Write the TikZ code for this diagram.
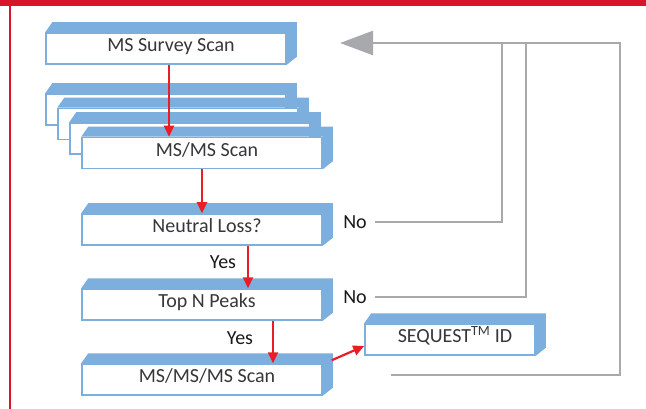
\documentclass[tikz,border=0pt]{standalone}
\usepackage{fontspec}
\setmainfont{Carlito}
\usepackage{tikz}
\usetikzlibrary{arrows.meta,calc}
\usepackage{xcolor}
\definecolor{bandred}{RGB}{215,22,45}
\definecolor{boxblue}{RGB}{124,174,222}
\definecolor{arrowred}{RGB}{232,30,38}
\definecolor{loopgrey}{RGB}{168,169,173}
\definecolor{textgrey}{RGB}{55,55,58}
% front face plus the blue top and side of a scan box
\newcommand{\scanbox}[4][240pt]{%
  \node[scanbox, minimum width=#1] (#2) at #3 {#4};
  \fill[boxblue] (#2.north west) -- ++(7pt,10pt)
    -- ([shift={(10pt,10pt)}]#2.north east)
    -- ([shift={(10pt,8pt)}]#2.south east)
    -- (#2.south east) -- (#2.north east) -- cycle;
}

\begin{document}
\begin{tikzpicture}[x=1pt, y=-1pt,
    font=\fontsize{20pt}{22pt}\selectfont,
    scanbox/.style={draw=boxblue, line width=1.5pt, fill=white,
      minimum height=31pt, inner sep=0pt, text=textgrey,
      text height=0.64em, text depth=0pt,
      execute at begin node=\hspace*{10pt}},
    yesno/.style={inner sep=0pt, text=black!90},
    flowarrow/.style={arrowred, line width=2.2pt,
      -{Triangle[length=11pt, width=10pt]}},
    backline/.style={loopgrey, line width=2.5pt}]
  \useasboundingbox (0,0) rectangle (646,409);

  % Frame
  \fill[bandred] (0,0) rectangle (646,6);
  \fill[bandred] (8.5,0) rectangle (11,409);

  % Scan boxes
  \scanbox{survey}{(166,48.5)}{MS Survey Scan}
  \foreach \i in {1,2,3}{
    \scanbox{s\i}{({154+12*\i},{95+14.5*\i})}{}
  }
  \scanbox{ms2}{(202,153)}{MS/MS Scan}
  \scanbox{neutral}{(202,229.5)}{Neutral Loss?}
  \scanbox{topn}{(202,304.5)}{Top N Peaks}
  \scanbox{ms3}{(202,379.5)}{MS/MS/MS Scan}
  \scanbox[170pt]{seq}{(450,339.5)}{SEQUEST\textsuperscript{TM} ID}

  % Decisions
  \node[yesno, anchor=base] (yes1) at (223,269) {Yes};
  \node[yesno, anchor=base] (yes2) at (240,344) {Yes};
  \node[yesno] (no1) at (355,222) {No};
  \node[yesno] (no2) at (355,297) {No};

  % Red flow
  \draw[flowarrow] ($(survey.south)+(3,0)$) -- ($(survey.south |- ms2.north)+(3,0)$);
  \draw[flowarrow] (ms2.south) -- (ms2.south |- neutral.north);
  \draw[flowarrow] ($(neutral.south)+(46,0)$) -- ($(topn.north)+(46,0)$);
  \draw[flowarrow] ($(topn.south)+(71,0)$) -- ($(ms3.north)+(71,0)$);
  \draw[flowarrow] ($(ms3.north east)+(9,-3)$) -- ($(seq.west)+(0,6.5)$);

  % Grey loop back to the survey scan
  \coordinate (back) at (340,43);
  \coordinate (loopin) at (391,375);
  \draw[backline] ([xshift=8pt]no1.east) -| ([xshift=162pt]back);
  \draw[backline] ([xshift=8pt]no2.east) -| ([xshift=186pt]back);
  \draw[backline, -{Triangle[length=33pt, width=24pt]}]
    (loopin) -| ([xshift=280pt]back) -- (back);
\end{tikzpicture}
\end{document}
